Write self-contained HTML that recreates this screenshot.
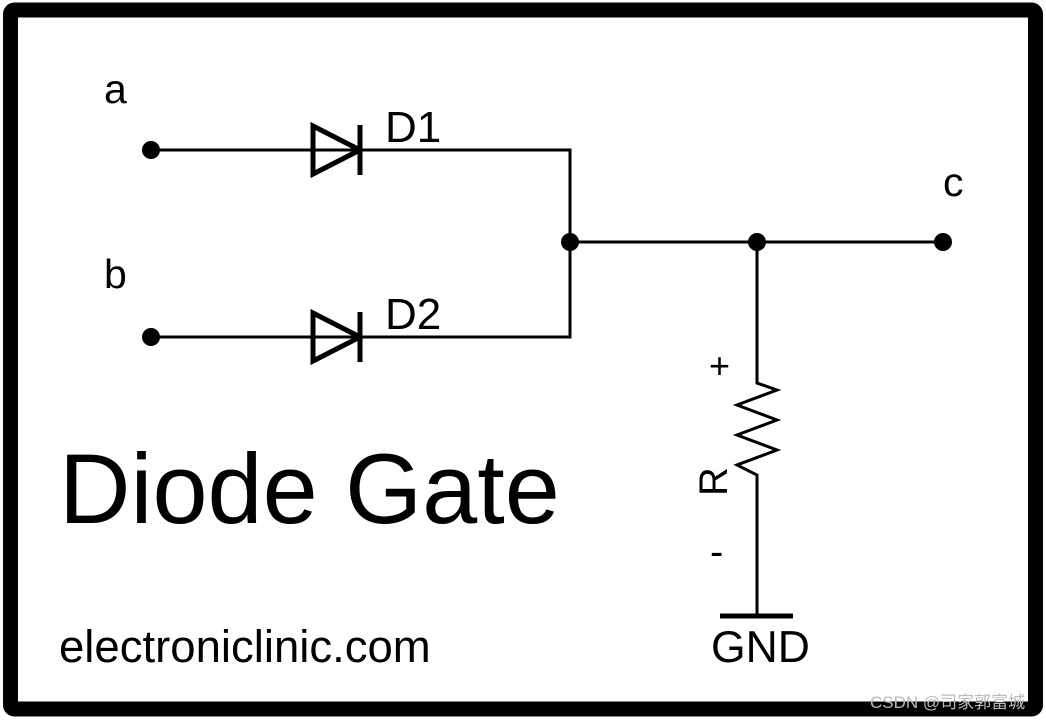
<!DOCTYPE html>
<html><head><meta charset="utf-8"><style>
html,body{margin:0;padding:0;background:#fff;}
svg{display:block;}
text{font-family:"Liberation Sans",Arial,sans-serif;fill:#000;}
</style></head><body>
<svg width="1046" height="720" viewBox="0 0 1046 720" xmlns="http://www.w3.org/2000/svg">
<rect x="0" y="0" width="1046" height="720" fill="#fff"/>
<rect x="10.5" y="10" width="1025" height="699" rx="4" fill="none" stroke="#000" stroke-width="15"/>
<g stroke="#000" stroke-width="3" fill="none">
<path d="M150 150 H570 V337 H150"/>
<path d="M570 242 H943"/>
<path d="M757 242 V383 L777 390 L737 405 L777 420 L737 435 L777 450 L737 465 L757 475 V616"/>
</g>
<g stroke="#000" stroke-width="5" fill="none" stroke-linejoin="miter">
<path d="M313 126 L360 150 L313 174 Z"/>
<path d="M360 125 V175"/>
<path d="M313 313 L360 337 L313 361 Z"/>
<path d="M360 312 V362"/>
<path d="M720 616 H793"/>
</g>
<g fill="#000">
<circle cx="151" cy="150" r="9"/>
<circle cx="151" cy="337" r="9"/>
<circle cx="570" cy="242" r="9"/>
<circle cx="757" cy="242" r="9"/>
<circle cx="943" cy="242" r="9"/>
</g>
<text x="104" y="103" font-size="41">a</text>
<text x="104" y="288" font-size="41">b</text>
<text x="943" y="196" font-size="41">c</text>
<text x="385" y="142" font-size="44">D1</text>
<text x="385" y="329" font-size="44">D2</text>
<text x="709" y="378" font-size="36">+</text>
<text x="710" y="565" font-size="40">-</text>
<text transform="translate(727,496) rotate(-90)" font-size="40">R</text>
<text x="711" y="662" font-size="44.5">GND</text>
<text x="59" y="523" font-size="99">Diode Gate</text>
<text x="59" y="662" font-size="45.5">electroniclinic.com</text>
<text x="870" y="708" font-size="17" style="fill:#bbb;font-family:'Liberation Sans','Noto Sans CJK SC',sans-serif">CSDN @司家郭富城</text>
</svg>
</body></html>
